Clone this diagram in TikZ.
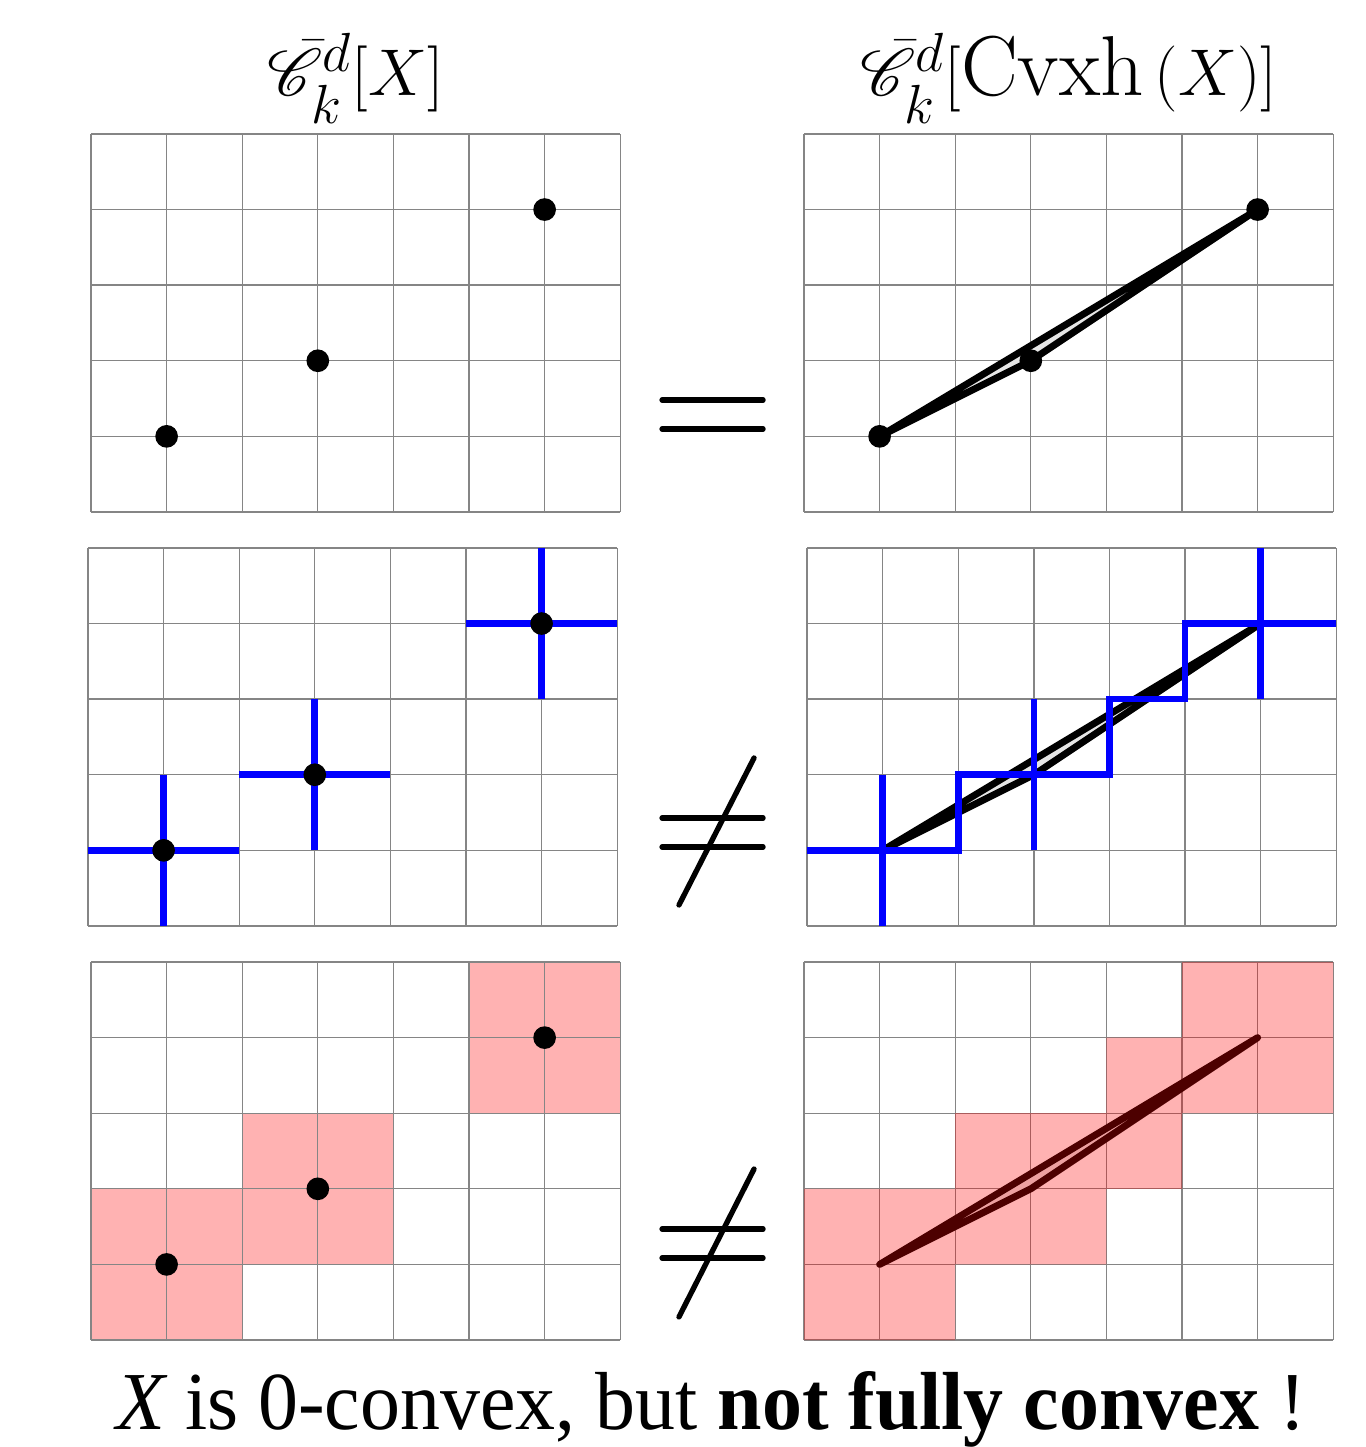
\documentclass[tikz,border=0pt]{standalone}
\usepackage[dvipsnames,svgnames,x11names]{xcolor}
\definecolor{GridGray} {HTML}{858585}
\definecolor{CrossBlue}{HTML}{0000FF}
\definecolor{HullLight}{HTML}{E6E6E6}
\usepackage{tikz}
\usetikzlibrary{positioning}
\usepackage{amsmath,amssymb,mathrsfs}
\usepackage{fontspec}
\newfontfamily\captionserif{Liberation Serif}
\tikzset{
  gridlines/.style={GridGray,line width=0.5pt},
  ptnode/.style={circle,fill=black,inner sep=0pt,minimum size=3mm},
  hulledge/.style={black,line width=2.6pt,line join=round,fill=HullLight},
  crossedge/.style={CrossBlue,line width=2.5pt},
  cellfill/.style={fill=red,fill opacity=0.3},
  relsign/.style={black,line width=2pt,line cap=round},
  titlenode/.style={anchor=base,font=\fontsize{32}{38}\selectfont},
}
\newcommand{\closOp}{\bar{\mathscr{C}}^{d}_{k}}

\begin{document}
\begin{tikzpicture}
  \useasboundingbox(0,0)rectangle(18.056,19.140);
  \node[titlenode](ttlL)at(4.704,17.88){$\closOp[X]$};
  \node[titlenode](ttlR)at(14.135,17.88)
    {$\closOp[\operatorname{Cvxh}\left(X\right)]$};
  % first row
  \begin{scope}[shift={(1.204,12.368)}]
    \draw[gridlines](0,0)grid(7,5);
    \node[ptnode](a1)at(1,1){};
    \node[ptnode](a2)at(3,2){};
    \node[ptnode](a3)at(6,4){};
  \end{scope}
  \begin{scope}[shift={(10.635,12.368)}]
    \draw[gridlines](0,0)grid(7,5);
    \coordinate(b1)at(1,1);
    \coordinate(b2)at(3,2);
    \coordinate(b3)at(6,4);
    \draw[hulledge](b1)--(b3)--(b2)--cycle;
    \node[ptnode](b1dot)at(b1){};
    \node[ptnode](b2dot)at(b2){};
    \node[ptnode](b3dot)at(b3){};
  \end{scope}
  \draw[relsign](8.757,13.849)--(10.093,13.849);
  \draw[relsign](8.757,13.466)--(10.093,13.466);
  % second row
  \begin{scope}[shift={(1.164,6.892)}]
    \draw[gridlines](0,0)grid(7,5);
    \draw[crossedge](0,1)--(2,1) (1,0)--(1,2);
    \draw[crossedge](2,2)--(4,2) (3,1)--(3,3);
    \draw[crossedge](5,4)--(7,4) (6,3)--(6,5);
    \node[ptnode](c1)at(1,1){};
    \node[ptnode](c2)at(3,2){};
    \node[ptnode](c3)at(6,4){};
  \end{scope}
  \begin{scope}[shift={(10.675,6.892)}]
    \draw[gridlines](0,0)grid(7,5);
    \coordinate(d1)at(1,1);
    \coordinate(d2)at(3,2);
    \coordinate(d3)at(6,4);
    \draw[hulledge](d1)--(d3)--(d2)--cycle;
    \draw[crossedge](d1)-|(2,2)-|(4,3)-|(5,4)--(d3);
    \draw[crossedge](0,1)--(2,1) (1,0)--(1,2);
    \draw[crossedge](3,1)--(3,3);
    \draw[crossedge](5,4)--(7,4) (6,3)--(6,5);
  \end{scope}
  \draw[relsign](8.757,8.320)--(10.093,8.320);
  \draw[relsign](8.757,7.937)--(10.093,7.937);
  \draw[relsign](8.981,7.169)--(9.974,9.114);
  % third row
  \begin{scope}[shift={(1.204,1.415)}]
    \fill[cellfill](0,0)rectangle(2,2) (2,1)rectangle(4,3)
      (5,3)rectangle(7,5);
    \draw[gridlines](0,0)grid(7,5);
    \node[ptnode](e1)at(1,1){};
    \node[ptnode](e2)at(3,2){};
    \node[ptnode](e3)at(6,4){};
  \end{scope}
  \begin{scope}[shift={(10.635,1.415)}]
    \draw[gridlines](0,0)grid(7,5);
    \coordinate(f1)at(1,1);
    \coordinate(f2)at(3,2);
    \coordinate(f3)at(6,4);
    \draw[hulledge](f1)--(f3)--(f2)--cycle;
    \fill[cellfill](0,0)--(2,0)--(2,1)--(4,1)--(4,2)--(5,2)--(5,3)
      --(7,3)--(7,5)--(5,5)--(5,4)--(4,4)--(4,3)--(2,3)--(2,2)
      --(0,2)--cycle;
  \end{scope}
  \draw[relsign](8.757,2.884)--(10.093,2.884);
  \draw[relsign](8.757,2.500)--(10.093,2.500);
  \draw[relsign](8.981,1.720)--(9.974,3.677);
  \node[anchor=base,font=\captionserif\fontsize{31}{36}\selectfont](cap)
    at(9.405,0.225){\scalebox{0.97}[1]{\itshape X\upshape{} is 0-convex,
    but \textbf{not fully convex} !}};
\end{tikzpicture}
\end{document}
